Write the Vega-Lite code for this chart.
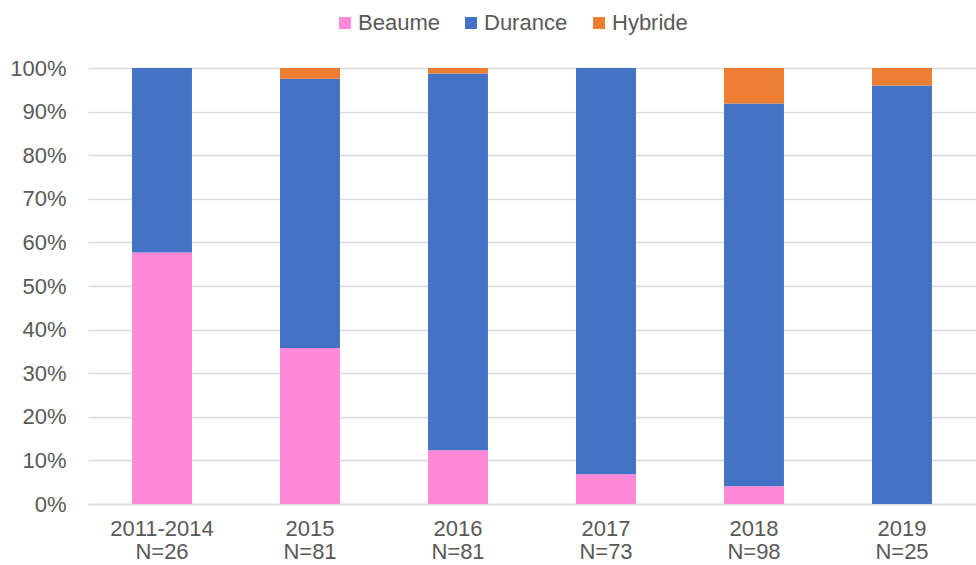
{
  "$schema": "https://vega.github.io/schema/vega-lite/v6.json",
  "autosize": {"type": "none"},
  "padding": {"left": 88, "top": 68, "right": 0, "bottom": 61},
  "width": 888,
  "height": 436,
  "background": "white",
  "data": {
    "values": [
      {"period": "2011-2014|N=26", "variety": "Beaume", "count": 15},
      {"period": "2011-2014|N=26", "variety": "Durance", "count": 11},
      {"period": "2011-2014|N=26", "variety": "Hybride", "count": 0},
      {"period": "2015|N=81", "variety": "Beaume", "count": 29},
      {"period": "2015|N=81", "variety": "Durance", "count": 50},
      {"period": "2015|N=81", "variety": "Hybride", "count": 2},
      {"period": "2016|N=81", "variety": "Beaume", "count": 10},
      {"period": "2016|N=81", "variety": "Durance", "count": 70},
      {"period": "2016|N=81", "variety": "Hybride", "count": 1},
      {"period": "2017|N=73", "variety": "Beaume", "count": 5},
      {"period": "2017|N=73", "variety": "Durance", "count": 68},
      {"period": "2017|N=73", "variety": "Hybride", "count": 0},
      {"period": "2018|N=98", "variety": "Beaume", "count": 4},
      {"period": "2018|N=98", "variety": "Durance", "count": 86},
      {"period": "2018|N=98", "variety": "Hybride", "count": 8},
      {"period": "2019|N=25", "variety": "Beaume", "count": 0},
      {"period": "2019|N=25", "variety": "Durance", "count": 24},
      {"period": "2019|N=25", "variety": "Hybride", "count": 1}
    ]
  },
  "mark": {"type": "bar"},
  "encoding": {
    "x": {
      "field": "period",
      "type": "nominal",
      "sort": null,
      "scale": {"paddingInner": 0.595, "paddingOuter": 0.2975},
      "axis": {
        "title": null,
        "labelAngle": 0,
        "labelExpr": "split(datum.label, '|')",
        "labelFont": "Liberation Sans",
        "labelFontSize": 22,
        "labelColor": "#595959",
        "labelLineHeight": 23,
        "labelPadding": 14,
        "ticks": false,
        "domainColor": "#d9d9d9",
        "domainWidth": 1.5,
        "grid": false
      }
    },
    "y": {
      "field": "count",
      "type": "quantitative",
      "stack": "normalize",
      "scale": {"domain": [0, 1], "nice": false},
      "axis": {
        "title": null,
        "values": [0, 0.1, 0.2, 0.3, 0.4, 0.5, 0.6, 0.7, 0.8, 0.9, 1],
        "format": ".0%",
        "labelFont": "Liberation Sans",
        "labelFontSize": 22,
        "labelColor": "#595959",
        "labelPadding": 22,
        "ticks": false,
        "domain": false,
        "grid": true,
        "gridColor": "#d9d9d9",
        "gridWidth": 1.5
      }
    },
    "order": {"field": "variety", "sort": "ascending"},
    "color": {
      "field": "variety",
      "type": "nominal",
      "scale": {
        "domain": ["Beaume", "Durance", "Hybride"],
        "range": ["#FF88D8", "#4472C4", "#ED7D31"]
      },
      "legend": {
        "title": null,
        "orient": "none",
        "direction": "horizontal",
        "legendX": 246,
        "legendY": -56,
        "padding": 0,
        "symbolType": "square",
        "symbolSize": 144,
        "symbolStrokeWidth": 0,
        "labelFont": "Liberation Sans",
        "labelFontSize": 22,
        "labelColor": "#595959",
        "labelOffset": 2,
        "columnPadding": 20
      }
    }
  },
  "config": {"view": {"stroke": null}}
}
